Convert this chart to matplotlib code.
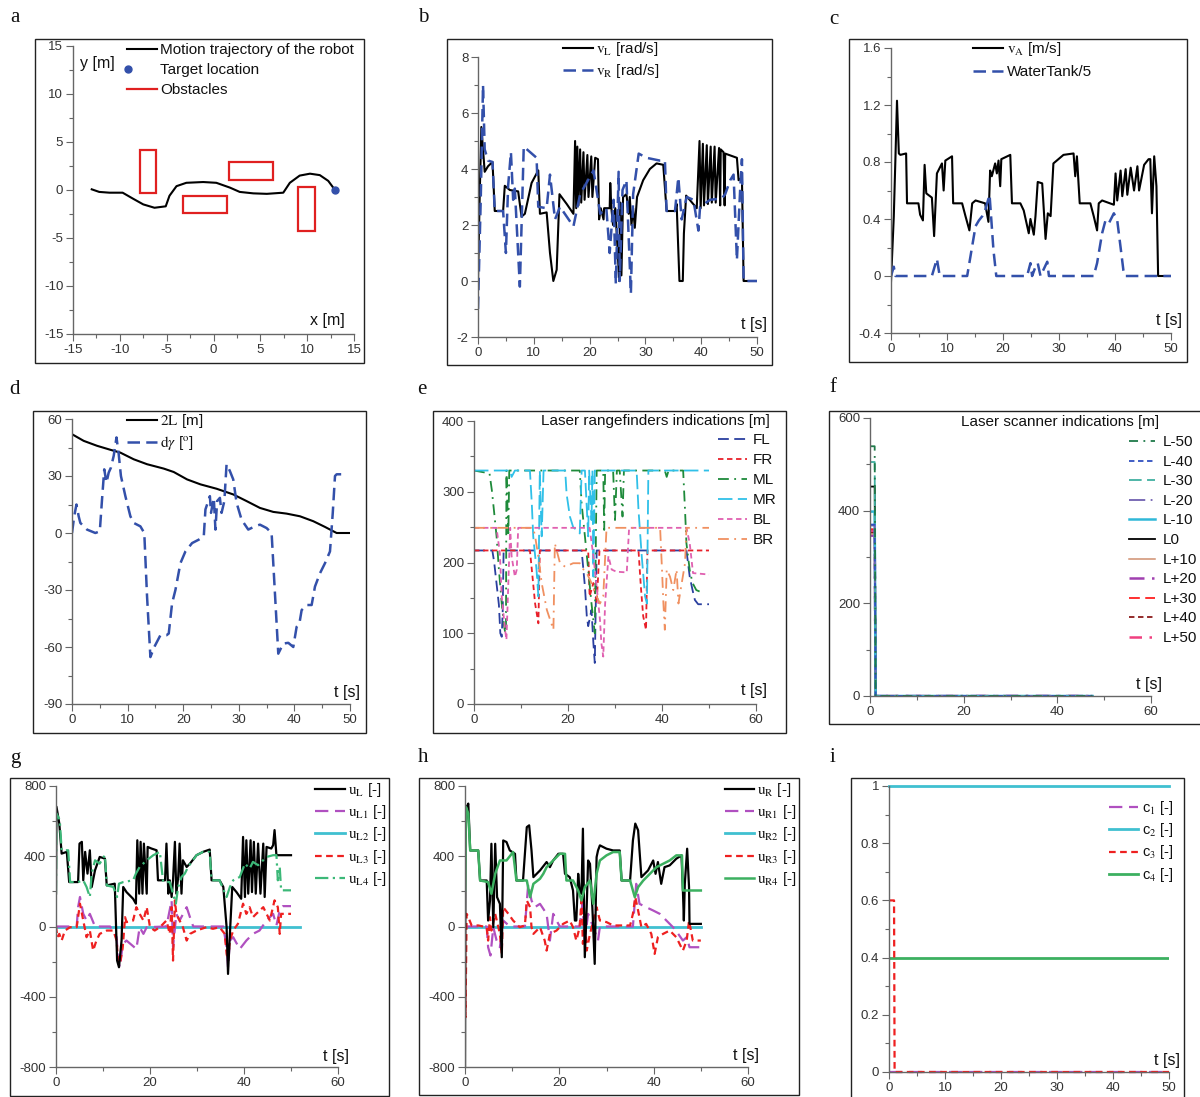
import matplotlib
matplotlib.use('Agg')
import matplotlib.pyplot as plt
from matplotlib.patches import Rectangle
from matplotlib.lines import Line2D
from matplotlib.ticker import MultipleLocator, FuncFormatter

plt.rcParams['font.family'] = ['Liberation Sans', 'DejaVu Sans']
plt.rcParams['mathtext.fontset'] = 'stix'
plt.rcParams['axes.unicode_minus'] = False

# ---------------- DATA ----------------
# (a) trajectory
a_traj_x = [-13.0, -12.2, -11.1, -9.7, -8.6, -7.5, -6.3, -5.1, -4.7, -3.95, -2.9, -1.1, 0.3, 1.75, 2.8,
            4.25, 5.7, 7.45, 8.15, 9.2, 10.3, 11.35, 12.25, 12.97]
a_traj_y = [0.07, -0.2, -0.28, -0.28, -0.9, -1.5, -1.85, -1.7, -0.6, 0.4, 0.75, 0.83, 0.75, 0.25, -0.2,
            -0.35, -0.4, -0.28, 0.75, 1.5, 1.7, 1.55, 0.95, 0.0]
a_target = [13.0, 0.0]
a_obs_x = [-7.9, -3.3, 1.7, 9.0]
a_obs_y = [-0.3, -2.4, 1.0, -4.3]
a_obs_w = [1.8, 4.7, 4.6, 1.85]
a_obs_h = [4.5, 1.75, 1.9, 4.65]

# (b) wheel speeds
b_vL_t = [0, 0.3, 0.6, 0.9, 1.2, 1.8, 2.6, 3.0, 4.5, 4.8, 5.7, 7.2, 7.8, 8.4, 9.6, 10.8, 11.1, 12.3, 12.9, 13.5,
          14.1, 14.6, 15.9, 17.1, 17.4, 17.6, 17.8, 18.0, 18.3, 18.5, 18.9, 19.1, 19.6, 19.8, 20.3, 20.5, 21.0,
          21.5, 21.7, 22.0, 22.5, 22.6, 23.6, 23.7, 23.9, 24.2, 24.6, 25.0, 25.3, 25.5, 25.7, 26.0, 26.6, 27.0,
          27.2, 27.5, 27.8, 28.1, 28.5, 29.6, 30.8, 32.0, 33.2, 33.8, 35.3, 35.6, 36.1, 36.7, 36.9, 37.3, 39.2,
          39.7, 39.9, 40.3, 40.5, 41.0, 41.2, 41.7, 41.9, 42.4, 42.6, 43.2, 43.4, 43.5, 44.0, 44.2, 44.3, 46.4,
          46.7, 47.3, 47.6, 50]
b_vL = [0, 3.0, 5.5, 4.7, 3.9, 4.1, 4.25, 2.5, 2.5, 3.4, 3.25, 3.2, 2.3, 2.4, 3.5, 3.95, 2.4, 2.45, 1.0, 0.0,
        0.4, 3.1, 2.75, 2.4, 5.0, 2.6, 4.8, 2.7, 4.7, 2.8, 4.6, 2.9, 4.5, 3.0, 4.45, 3.0, 4.4,
        4.35, 2.2, 2.6, 2.2, 2.6, 2.6, 3.5, 2.6, 2.0, 2.6, 1.2, 0.0, 2.8, 0.2, 3.0, 3.1, 2.4,
        3.0, 2.0, 2.6, 1.9, 3.0, 3.6, 4.0, 4.2, 4.15, 2.5, 2.5, 2.75, 0.0, 0.0, 1.7, 3.05, 2.6,
        5.0, 2.6, 4.9, 2.7, 4.85, 2.75, 4.8, 2.8, 4.8, 2.8, 4.75, 2.7, 4.7, 4.6, 2.7, 4.55, 4.4,
        3.6, 3.7, 0.0, 0.0]
b_vR_t = [0, 0.5, 0.9, 1.2, 1.8, 2.6, 3.0, 4.5, 5.0, 5.4, 5.9, 6.3, 6.6, 7.5, 8.2, 10.5, 10.8, 12.3, 12.9, 13.8,
          14.7, 17.1, 18.3, 20.7, 21.9, 23.0, 23.6, 24.3, 24.7, 25.2, 25.4, 25.9, 26.6, 27.4, 27.8, 28.8, 30.2,
          32.6, 33.5, 33.8, 35.3, 35.9, 36.5, 37.4, 38.6, 39.5, 39.8, 41.6, 43.7, 44.3, 45.2, 45.8, 46.4, 47.0,
          47.3, 47.6, 50]
b_vR = [-1.0, 3.0, 7.0, 4.7, 4.3, 4.25, 2.5, 2.5, 1.0, 3.4, 4.6, 2.9, 3.3, -0.2, 4.8, 4.4, 2.65, 2.6, 3.8, 2.2,
        2.65, 1.95, 3.1, 3.95, 2.4, 2.6, 1.0, 2.9, -0.1, 3.9, 0.0, 3.25, 3.6, -0.45, 3.1, 4.55, 4.4,
        4.3, 4.3, 2.5, 2.5, 3.7, 2.2, 3.0, 2.9, 1.8, 2.65, 2.9, 2.95, 3.1, 3.6, 3.8, 0.75, 3.35,
        4.35, 0.0, 0.0]

# (c) robot speed and water tank
c_vA_t = [0, 0.5, 0.8, 1.07, 1.4, 1.67, 2.7, 2.86, 4.9, 5.2, 5.7, 6.0, 6.3, 7.3, 7.7, 8.2, 9.1, 9.4, 9.7, 10.9,
          11.1, 12.7, 13.3, 14.0, 14.5, 15.1, 16.8, 17.4, 17.7, 18.0, 18.6, 18.9, 19.2, 19.5, 19.7, 21.3, 21.6,
          23.1, 23.7, 24.6, 24.9, 25.5, 25.8, 26.2, 27.0, 27.6, 28.0, 28.5, 29.0, 30.8, 32.6, 32.9, 33.2, 33.7,
          35.6, 36.2, 36.8, 37.1, 37.7, 39.8, 40.1, 40.4, 41.0, 41.3, 41.9, 42.2, 42.8, 43.4, 44.0, 44.3, 45.2,
          46.0, 46.3, 46.6, 47.0, 47.4, 47.7, 50]
c_vA = [-0.04, 0.42, 0.84, 1.23, 0.86, 0.85, 0.86, 0.51, 0.51, 0.43, 0.39, 0.78, 0.58, 0.55, 0.28, 0.72, 0.79,
        0.6, 0.81, 0.84, 0.51, 0.51, 0.42, 0.32, 0.51, 0.53, 0.51, 0.38, 0.74, 0.70, 0.79, 0.72, 0.81, 0.63,
        0.82, 0.85, 0.51, 0.51, 0.46, 0.30, 0.40, 0.29, 0.42, 0.66, 0.65, 0.26, 0.44, 0.42, 0.79, 0.85, 0.86,
        0.70, 0.84, 0.51, 0.51, 0.42, 0.32, 0.51, 0.53, 0.50, 0.72, 0.53, 0.74, 0.56, 0.75, 0.57, 0.76, 0.6,
        0.77, 0.6, 0.78, 0.82, 0.82, 0.44, 0.84, 0.63, 0.0, 0.0]
c_wt_t = [0, 0.5, 0.8, 7.3, 8.2, 8.7, 13.6, 14.2, 15.1, 15.7, 16.3, 16.8, 17.6, 18.3, 18.8, 24.3, 24.9, 25.2,
          25.8, 26.2, 26.7, 27.9, 28.2, 36.2, 36.8, 37.7, 38.3, 38.9, 39.8, 40.4, 41.0, 41.5, 41.8, 50]
c_wt = [0, 0.065, 0, 0, 0.12, 0, 0, 0.14, 0.35, 0.39, 0.42, 0.46, 0.57, 0.18, 0, 0, 0.09, 0,
        0.065, 0.09, 0, 0.1, 0, 0, 0.09, 0.30, 0.39, 0.37, 0.44, 0.39, 0.2, 0.04, 0, 0]

# (d) distance and heading error
d_2L_t = [0, 2.1, 4.5, 6.9, 8.7, 11.1, 13.5, 16.5, 18.3, 20.7, 23.1, 26.0, 29.0, 31.4, 33.8, 36.2, 38.6, 41.0,
          43.4, 45.5, 47.0, 47.6, 50]
d_2L = [52, 48.5, 45.9, 43.8, 42.3, 38.8, 36.2, 33.9, 32.1, 28.2, 25.6, 23.3, 20.3, 16.8, 13.2, 11.1, 10.2, 8.8,
        6.2, 3.2, 0.9, 0, 0]
d_dg_t = [0, 0.4, 0.8, 1.2, 1.5, 2.7, 4.2, 5.0, 5.4, 5.8, 6.2, 6.6, 7.0, 7.5, 8.0, 8.4, 8.8, 9.6, 10.5, 11.1,
          12.3, 13.0, 13.5, 14.1, 14.8, 15.9, 17.0, 17.4, 18.0, 18.6, 19.5, 20.4, 21.6, 22.8, 23.7, 24.0, 24.8,
          25.0, 25.5, 25.8, 26.1, 26.6, 26.9, 27.4, 27.8, 28.4, 29.0, 29.6, 30.5, 31.7, 32.9, 33.8, 35.0, 35.9,
          36.8, 37.1, 38.0, 38.9, 39.8, 40.4, 40.9, 41.3, 42.2, 43.1, 43.7, 44.6, 45.5, 46.4, 46.9, 47.3, 47.6,
          49.1]
d_dg = [0, 8.8, 15, 8.8, 5.3, 1.8, 0, 0.9, 17.6, 33.5, 26.5, 31.8, 34.4, 40.6, 50.3, 41.5, 30, 19.4, 8.8, 5.3,
        3.5, 0, -33.5, -65.3, -60, -53.8, -53.8, -52.9, -37, -30, -15.9, -9.7, -5.3, -3.5, -1.8, 12.4, 19.4,
        10.6, 18.5, 1.8, 16.8, 18.5, 10.6, 16.8, 36.2, 32.6, 28.2, 15.9, 7, 1.8, 3.5, 4.4, 2.6, 0,
        -47.6, -63.5, -58.2, -57.8, -60, -49.4, -47.6, -40.6, -37.9, -37.9, -28.2, -21.2, -15.9, -9.7, 10.6, 30,
        30.9, 30.9]

# (e) laser rangefinders
e_FL_t = [0, 3.9, 4.3, 4.8, 5.3, 5.6, 5.9, 6.1, 6.3, 22.9, 23.6, 24.0, 24.3, 25.0, 25.4, 25.7, 26.1, 45.2, 45.9,
          46.5, 47.0, 47.7, 50]
e_FL = [217, 217, 200, 170, 140, 100, 95, 130, 217, 217, 166, 124, 110, 133, 86, 58, 217, 217, 180,
        161, 147, 141, 141]
e_FR_t = [0, 11.9, 12.3, 13.0, 13.7, 14.0, 24.3, 24.6, 25.4, 26.1, 26.7, 35.0, 35.5, 36.0, 36.6, 36.9, 50]
e_FR = [217, 217, 190, 142, 114, 217, 217, 152, 171, 142, 217, 217, 166, 124, 105, 217, 217]
e_ML_t = [0, 3.3, 3.8, 4.3, 4.8, 5.3, 5.9, 6.4, 6.8, 6.9, 7.3, 7.5, 22.5, 22.9, 23.6, 24.3, 25.0, 25.7, 26.1,
          27.5, 27.7, 27.9, 29.6, 30.0, 30.4, 31.0, 31.6, 31.9, 40.6, 41.0, 41.4, 44.5, 44.9, 45.2, 45.9, 46.5,
          47.3, 48.0]
e_ML = [330, 326, 302, 270, 237, 190, 142, 110, 95, 330, 237, 330, 330, 283, 237, 190, 142, 100, 330,
        330, 246, 330, 330, 260, 330, 330, 265, 330, 330, 321, 330, 330, 274, 227, 189, 171,
        161, 159]
e_MR_t = [0, 7.7, 8.0, 8.4, 8.7, 11.9, 12.3, 12.6, 13.3, 13.7, 14.0, 14.4, 14.8, 19.4, 19.7, 20.4, 21.1, 21.8,
          22.5, 22.9, 23.6, 24.3, 24.5, 25.0, 25.2, 25.4, 25.7, 34.6, 35.0, 35.7, 36.4, 36.8, 37.1, 50]
e_MR = [330, 330, 321, 326, 330, 330, 283, 237, 190, 152, 330, 237, 330, 330, 297, 265, 250, 246,
        241, 330, 330, 237, 330, 260, 330, 180, 330, 330, 274, 208, 152, 142, 330, 330]
e_BL_t = [0, 4.8, 5.5, 5.9, 6.6, 6.9, 7.7, 8.0, 8.7, 9.1, 9.4, 24.6, 25.4, 26.1, 26.8, 27.1, 27.5, 27.9, 28.6,
          29.3, 30.3, 32.5, 33.0, 45.2, 45.9, 46.6, 50]
e_BL = [249, 249, 213, 152, 105, 91, 249, 209, 180, 190, 249, 249, 209, 166, 119, 86, 67, 142, 209,
        190, 187, 186, 249, 249, 227, 185, 183]
e_BR_t = [0, 12.6, 13.0, 13.7, 14.4, 15.5, 16.9, 17.2, 18.3, 19.4, 21.1, 22.5, 23.3, 24.0, 25.0, 26.1, 26.8,
          27.5, 28.2, 39.6, 40.0, 40.3, 40.6, 41.0, 41.7, 42.4, 43.1, 43.5, 44.2, 44.9, 45.2, 50]
e_BR = [249, 249, 237, 208, 171, 133, 105, 227, 199, 194, 199, 199, 190, 185, 171, 152, 142,
        152, 249, 249, 190, 142, 105, 190, 180, 161, 190, 142, 171, 199, 249, 249]

# (f) laser scanner: initial reading, drop time, end time
f_labels = ['L-50', 'L-40', 'L-30', 'L-20', 'L-10', 'L0', 'L+10', 'L+20', 'L+30', 'L+40', 'L+50']
f_init = [539, 370, 505, 368, 398, 452, 350, 346, 360, 352, 356]
f_t = [0, 1.0, 1.2, 47.5]

# (g) left wheel controls
g_uL_t = [0, 0.1, 0.7, 1.2, 2.3, 2.8, 4.7, 5.0, 5.5, 5.8, 6.2, 6.7, 7.2, 7.6, 8.3, 9.3, 10.4, 10.8, 12.5, 13.0,
          13.4, 13.95, 14.3, 15.0, 16.4, 17.0, 17.3, 17.7, 18.0, 18.4, 18.7, 19.3, 19.5, 20.3, 21.4, 21.7, 23.2,
          23.5, 23.9, 24.2, 24.6, 24.9, 25.3, 25.6, 26.0, 26.3, 26.7, 27.0, 27.8, 28.5, 29.9, 31.3, 32.7, 33.1,
          34.8, 35.6, 36.3, 36.6, 37.0, 37.5, 38.4, 39.4, 39.8, 40.2, 40.5, 40.9, 41.4, 41.7, 42.1, 42.5, 43.0,
          43.5, 44.1, 44.4, 44.8, 45.8, 46.2, 46.5, 46.9, 50]
g_uL = [187, 682, 587, 415, 425, 253, 253, 472, 482, 263, 425, 301, 434, 225, 320, 396, 387, 234, 244, -194,
        -232, -80, 225, 196, 158, 130, 491, 187, 482, 187, 472, 187, 453, 444, 434, 263, 263,
        472, 187, 263, 168, 263, 482, 187, 282, 472, 187, 377, 339, 358, 406, 425, 438, 263,
        263, 225, -4, -270, -42, 225, 196, 158, 510, 168, 491, 187, 491, 196, 482, 187, 472,
        187, 472, 168, 453, 444, 463, 549, 406, 406]
g_uL1_t = [0, 4.4, 4.7, 5.1, 5.8, 6.5, 7.2, 8.3, 11.5, 12.9, 13.2, 13.6, 14.2, 15.0, 17.1, 17.8, 18.6, 19.3,
           23.5, 24.6, 24.9, 25.6, 26.3, 27.8, 28.5, 29.2, 35.6, 36.3, 36.6, 37.0, 37.7, 39.1, 40.5, 41.9,
           43.3, 44.8, 46.2, 46.9, 47.6, 48.3, 50]
g_uL1 = [0, 0, 110, 168, 72, 34, 72, 0, 0, -61, -194, -232, -99, -80, -128, -4, -42, -4,
         0, 149, -118, 72, 34, 110, 53, 0, 0, -118, -232, -80, -61, -128, -80, -42,
         -23, 34, 72, 6, 91, 116, 116]
g_uL2_t = [0, 52]
g_uL2 = [0, 0]
g_uL3_t = [0, 0.3, 0.7, 1.2, 1.9, 3.0, 4.4, 4.7, 5.1, 5.8, 6.5, 7.2, 7.9, 8.6, 9.3, 10.8, 12.2, 12.9, 13.2,
           13.6, 14.2, 14.7, 15.0, 16.4, 17.1, 17.8, 18.6, 19.3, 20.0, 21.0, 22.1, 23.5, 24.2, 24.6, 24.9,
           25.3, 25.6, 26.3, 27.0, 27.8, 28.5, 29.9, 32.0, 33.4, 34.8, 35.9, 36.3, 36.6, 37.0, 37.7, 38.7,
           39.8, 40.5, 41.2, 41.9, 42.6, 44.1, 44.8, 45.5, 46.5, 47.2, 47.6, 47.9, 50]
g_uL3 = [0, -61, -42, -80, -23, -4, -4, 53, 130, 34, -61, -23, -137, -80, -42, -23, -23, -80, -194,
         -213, -118, 53, 25, 34, 110, 72, 34, 110, -4, -23, -4, 34, -42, 110, -194,
         149, 72, 34, -4, -80, -42, -23, -4, -13, -4, -42, -156, -194, -80, -23, 15,
         130, 72, 110, 53, 72, 110, 72, 34, 149, 110, -42, 72, 72]
g_uL4_t = [0, 0.1, 0.8, 1.2, 2.6, 3.0, 4.7, 5.8, 6.5, 7.2, 7.6, 8.3, 9.3, 10.4, 10.8, 12.2, 13.0, 13.4, 14.3,
           16.4, 17.0, 17.8, 19.3, 20.7, 22.1, 22.8, 24.2, 24.9, 25.5, 26.0, 26.7, 27.4, 28.1, 29.9, 31.3, 32.7,
           33.1, 34.8, 36.3, 37.0, 37.7, 39.1, 40.2, 41.2, 41.9, 43.0, 44.8, 46.2, 46.9, 47.2, 47.6, 47.9, 50]
g_uL4 = [187, 644, 606, 434, 434, 253, 253, 263, 225, 168, 301, 377, 358, 406, 234, 225, 168, 244, 253,
         263, 301, 339, 377, 406, 425, 253, 253, 187, 130, 225, 282, 301, 339, 406, 425, 425,
         263, 263, 168, 225, 263, 282, 358, 330, 368, 349, 396, 406, 406, 263, 339, 206, 206]

# (h) right wheel controls
h_uR_t = [0, 0.1, 0.35, 0.7, 1.1, 2.8, 3.2, 4.6, 4.9, 5.3, 5.6, 6.0, 6.4, 6.8, 7.4, 7.8, 8.1, 8.8, 9.5, 10.6,
          10.9, 12.3, 13.1, 13.6, 14.1, 14.5, 15.9, 17.3, 18.0, 18.7, 19.8, 20.8, 21.2, 22.2, 22.9, 23.3, 23.6,
          24.0, 24.3, 24.7, 25.0, 25.4, 25.8, 26.1, 26.5, 27.0, 27.5, 27.9, 28.2, 28.6, 30.0, 31.4, 32.8, 33.2,
          35.0, 35.6, 36.1, 36.7, 37.0, 37.4, 38.1, 38.8, 39.9, 40.4, 40.9, 41.6, 42.3, 43.4, 44.8, 45.9, 46.2,
          46.4, 46.6, 47.1, 47.5, 47.6, 50]
h_uR = [-802, 490, 680, 700, 433, 433, 262, 262, 34, 148, 471, -4, 471, 167, 129, -175, 490, 481, 433, 414,
        262, 262, 566, 576, 433, 281, 319, 367, 338, 376, 414, 414, 300, 281, 205, 34, 34,
        300, 205, 186, 557, -175, 110, 376, 357, 110, -213, 395, 433, 462, 443, 433, 433, 262,
        262, 490, 586, 548, 433, 281, 300, 319, 376, 300, 367, 243, 338, 348, 386, 405, 205,
        34, 243, 443, 224, 15, 15]
h_uR1_t = [0, 4.6, 4.9, 5.4, 6.0, 6.7, 7.4, 8.1, 9.5, 12.7, 13.4, 14.1, 14.8, 15.9, 17.3, 18.0, 18.7, 19.4,
           20.1, 24.3, 24.9, 25.4, 26.1, 27.2, 28.2, 28.6, 35.6, 36.3, 37.0, 38.4, 39.9, 41.3, 42.7, 44.1,
           45.2, 46.2, 47.0, 47.6, 50]
h_uR1 = [0, 0, -118, -165, -4, -80, -118, 34, 0, 0, 243, 148, 110, 129, 72, -80, 72, 34,
         0, 0, 129, -80, 72, -4, -80, 0, 0, 243, 129, 110, 91, 72, 34, -4,
         -42, -80, -61, -118, -118]
h_uR2_t = [0, 50]
h_uR2 = [0, 0]
h_uR3_t = [0, 0.1, 0.35, 0.7, 1.4, 2.8, 4.6, 4.9, 5.3, 5.6, 6.4, 7.4, 7.8, 8.1, 9.2, 10.2, 11.6, 12.7, 13.1,
           13.8, 14.1, 14.5, 15.9, 16.9, 17.3, 18.0, 19.4, 20.8, 22.2, 22.9, 23.6, 24.3, 24.7, 25.0, 25.4,
           25.8, 26.5, 27.2, 27.9, 28.6, 30.0, 31.4, 32.8, 35.0, 35.6, 36.1, 36.7, 37.4, 38.4, 39.5, 40.2,
           40.9, 42.0, 43.4, 44.8, 46.2, 47.0, 47.5, 48.3, 50]
h_uR3 = [-4, -517, 72, 53, 6, 6, -4, -80, 53, -23, 72, -42, -156, 110, 72, 34, -4, 6, 148,
         110, -4, -42, -4, -80, -137, -42, -23, 15, 34, -4, -80, -4, 148, -99, 72,
         -137, -42, 34, 110, 34, 25, 6, 6, 6, 72, 167, 91, -4, 15, -42, -156,
         -61, -42, -23, -61, -137, -80, 34, -80, -80]
h_uR4_t = [0, 0.2, 0.7, 1.1, 2.8, 3.2, 4.9, 5.6, 6.4, 7.4, 8.8, 10.2, 10.9, 13.1, 13.8, 14.5, 15.9, 16.6, 17.3,
           18.7, 20.1, 21.2, 21.5, 22.9, 24.0, 24.7, 25.4, 26.5, 27.2, 27.9, 28.6, 30.0, 31.4, 32.8, 33.2, 35.0,
           36.0, 36.7, 37.8, 39.2, 40.6, 42.0, 43.4, 44.8, 46.0, 46.2, 50]
h_uR4 = [205, 680, 643, 433, 433, 262, 253, 186, 300, 376, 376, 424, 262, 262, 167, 243, 272, 300, 338,
         376, 414, 414, 262, 262, 205, 148, 224, 262, 129, 300, 376, 405, 424, 424, 262, 262,
         167, 224, 262, 300, 338, 357, 376, 405, 405, 205, 205]

# (i) coefficients
i_t = [0, 50]
i_c1 = [0, 0]
i_c2 = [1, 1]
i_c3_t = [0, 0.9, 1.0, 50]
i_c3 = [0.6, 0.6, 0, 0]
i_c4 = [0.4, 0.4]

# ---------------- STYLE ----------------
BLUE = '#3350aa'
W, H = 1200, 1097
fig = plt.figure(figsize=(W / 100, H / 100), dpi=100)


def fx(x):
    return x / W


def fy(y):
    return 1 - y / H


def frame(x0, y0, x1, y1):
    fig.patches.append(Rectangle((fx(x0), fy(y1)), (x1 - x0) / W, (y1 - y0) / H,
                                 transform=fig.transFigure, fill=False, lw=1.0, ec='#222'))


def make_axes(x0, x1, ytop, ybot, xlim, ylim, xmaj, xmin, ymaj, ymin):
    ax = fig.add_axes([fx(x0), fy(ybot), (x1 - x0) / W, (ybot - ytop) / H])
    ax.set_xlim(*xlim)
    ax.set_ylim(*ylim)
    ax.patch.set_alpha(0)
    for s in ('top', 'right'):
        ax.spines[s].set_visible(False)
    for s in ('left', 'bottom'):
        ax.spines[s].set_color('#666')
        ax.spines[s].set_linewidth(1.0)
    ax.xaxis.set_major_locator(MultipleLocator(xmaj))
    ax.xaxis.set_minor_locator(MultipleLocator(xmin))
    ax.yaxis.set_major_locator(MultipleLocator(ymaj))
    ax.yaxis.set_minor_locator(MultipleLocator(ymin))
    fmt = FuncFormatter(lambda v, p: '%g' % (round(v, 6) + 0.0))
    ax.xaxis.set_major_formatter(fmt)
    ax.yaxis.set_major_formatter(fmt)
    ax.tick_params(which='major', length=5, width=0.8, color='#666', labelsize=9.5,
                   labelcolor='#333', pad=2)
    ax.tick_params(which='minor', length=3, width=0.8, color='#666')
    return ax


def panel_letter(x, y, s):
    fig.text(fx(x), fy(y), s, family=['Liberation Serif', 'DejaVu Serif'], fontsize=15,
             ha='center', va='center', color='#111')


def legend_rows(rows, xh, hl, xt, y0, dy, fs=11):
    for i, (label, kw) in enumerate(rows):
        y = y0 + i * dy
        if kw is not None:
            fig.add_artist(Line2D([fx(xh), fx(xh + hl)], [fy(y), fy(y)],
                                  transform=fig.transFigure, **kw))
        fig.text(fx(xt), fy(y + fs * 0.45), label, fontsize=fs, ha='left', va='baseline', color='#111')


def axis_label(ax, x, y, s, ha='right'):
    ax.text(x, y, s, transform=ax.transAxes, fontsize=11.5, ha=ha, va='bottom', color='#111')


# ---------------- (a) ----------------
frame(35, 39, 364, 363)
panel_letter(15, 18, 'a')
ax = make_axes(73, 354, 46, 334, (-15, 15), (-15, 15), 5, 2.5, 5, 2.5)
ax.plot(a_traj_x, a_traj_y, color='black', lw=1.5)
for x0, y0, w, h in zip(a_obs_x, a_obs_y, a_obs_w, a_obs_h):
    ax.add_patch(Rectangle((x0, y0), w, h, fill=False, ec='#e02020', lw=1.6))
ax.plot([a_target[0]], [a_target[1]], 'o', color=BLUE, ms=5)
axis_label(ax, 0.968, 0.02, 'x [m]')
ax.text(0.025, 0.965, 'y [m]', transform=ax.transAxes, fontsize=11.5, ha='left', va='top', color='#111')
legend_rows([('Motion trajectory of the robot', dict(color='black', lw=1.5)),
             ('Target location', None),
             ('Obstacles', dict(color='#e02020', lw=1.6))], 127, 30, 160, 49, 20)
fig.add_artist(Line2D([fx(128)], [fy(69)], transform=fig.transFigure, marker='o', color=BLUE, ms=5, ls='none'))

# ---------------- (b) ----------------
frame(447, 39, 772, 365)
panel_letter(423, 18, 'b')
ax = make_axes(478, 757, 57, 337, (0, 50), (-2, 8), 10, 5, 2, 1)
ax.plot(b_vL_t, b_vL, color='black', lw=1.5)
ax.plot(b_vR_t, b_vR, color=BLUE, lw=1.8, ls=(0, (5, 2.5)))
axis_label(ax, 1.036, 0.018, 't [s]')
legend_rows([(r'$\mathrm{v_L}$ [rad/s]', dict(color='black', lw=1.5)),
             (r'$\mathrm{v_R}$ [rad/s]', dict(color=BLUE, lw=1.8, ls=(0, (5, 2.5))))],
            563, 30, 596, 48, 22)

# ---------------- (c) ----------------
frame(849, 39, 1187, 362)
panel_letter(834, 19, 'c')
ax = make_axes(891, 1171, 48, 333, (0, 50), (-0.4, 1.6), 10, 5, 0.4, 0.2)
ax.plot(c_vA_t, c_vA, color='black', lw=1.5)
ax.plot(c_wt_t, c_wt, color=BLUE, lw=1.8, ls=(0, (5, 2.5)))
axis_label(ax, 1.04, 0.018, 't [s]')
legend_rows([(r'$\mathrm{v_A}$ [m/s]', dict(color='black', lw=1.5)),
             ('WaterTank/5', dict(color=BLUE, lw=1.8, ls=(0, (5, 2.5))))],
            973, 30, 1007, 48, 23)

# ---------------- (d) ----------------
frame(33, 411, 366, 733)
panel_letter(15, 390, 'd')
ax = make_axes(72, 350, 419, 704, (0, 50), (-90, 60), 10, 5, 30, 15)
ax.plot(d_2L_t, d_2L, color='black', lw=1.5)
ax.plot(d_dg_t, d_dg, color=BLUE, lw=1.8, ls=(0, (5, 2.5)))
axis_label(ax, 1.036, 0.014, 't [s]')
legend_rows([(r'$\mathrm{2L}$ [m]', dict(color='black', lw=1.5)),
             (r'$\mathrm{d}\gamma$ [$^{\mathrm{o}}$]', dict(color=BLUE, lw=1.8, ls=(0, (5, 2.5))))],
            127, 30, 160, 420, 22)

# ---------------- (e) ----------------
frame(433, 411, 786, 733)
panel_letter(422, 390, 'e')
ax = make_axes(474, 756, 421, 704, (0, 60), (0, 400), 20, 10, 100, 50)
e_styles = [
    ('FL', e_FL_t, e_FL, dict(color='#2a3f9f', lw=1.3, ls=(0, (6, 3)))),
    ('FR', e_FR_t, e_FR, dict(color='#e8202a', lw=1.3, ls=(0, (3, 2)))),
    ('ML', e_ML_t, e_ML, dict(color='#1e8a3a', lw=1.3, ls=(0, (6, 3, 1, 3)))),
    ('MR', e_MR_t, e_MR, dict(color='#30c0e8', lw=1.3, ls=(0, (8, 3)))),
    ('BL', e_BL_t, e_BL, dict(color='#e060b0', lw=1.3, ls=(0, (3, 2)))),
    ('BR', e_BR_t, e_BR, dict(color='#f09060', lw=1.3, ls=(0, (6, 3, 1, 3)))),
]
for name, t, v, kw in e_styles:
    ax.plot(t, v, **kw)
axis_label(ax, 1.039, 0.021, 't [s]')
fig.text(fx(770), fy(420 + 5), 'Laser rangefinders indications [m]', fontsize=11, ha='right',
         va='baseline', color='#111')
legend_rows([(n, kw) for n, t, v, kw in e_styles], 718, 29, 753, 439, 20)

# ---------------- (f) ----------------
frame(829, 411, 1210, 724)
panel_letter(833, 388, 'f')
ax = make_axes(870, 1151, 418, 696, (0, 60), (0, 600), 20, 10, 200, 100)
f_kws = [
    dict(color='#1f7a4a', lw=1.3, ls=(0, (5, 3, 1, 3))),
    dict(color='#3050c0', lw=1.3, ls=(0, (3, 2))),
    dict(color='#40b0a0', lw=1.3, ls=(0, (7, 3))),
    dict(color='#7060b0', lw=1.3, ls=(0, (9, 3, 1, 3))),
    dict(color='#30b8d8', lw=1.8),
    dict(color='black', lw=1.3),
    dict(color='#d09070', lw=1.1),
    dict(color='#a040b0', lw=1.8, ls=(0, (6, 3, 1, 3))),
    dict(color='#ff2020', lw=1.3, ls=(0, (6, 3))),
    dict(color='#8b1a1a', lw=1.3, ls=(0, (3, 2))),
    dict(color='#f04080', lw=1.8, ls=(0, (5, 3, 1, 3))),
]
for lab, v0, kw in reversed(list(zip(f_labels, f_init, f_kws))):
    ax.plot(f_t, [v0, v0, 0, 0], **kw)
axis_label(ax, 1.039, 0.014, 't [s]')
fig.text(fx(1159), fy(421 + 5), 'Laser scanner indications [m]', fontsize=11, ha='right',
         va='baseline', color='#111')
legend_rows(list(zip(f_labels, f_kws)), 1129, 26, 1163, 441, 19.6)

# ---------------- (g) ----------------
frame(10, 778, 389, 1096)
panel_letter(15, 758, 'g')
ax = make_axes(56, 338, 786, 1067, (0, 60), (-800, 800), 20, 10, 400, 200)
g_styles = [
    (r'$\mathrm{u_L}$ [-]', g_uL_t, g_uL, dict(color='black', lw=1.6)),
    (r'$\mathrm{u_{L1}}$ [-]', g_uL1_t, g_uL1, dict(color='#b050c0', lw=1.6, ls=(0, (6, 3)))),
    (r'$\mathrm{u_{L2}}$ [-]', g_uL2_t, g_uL2, dict(color='#40c0d0', lw=2.0)),
    (r'$\mathrm{u_{L3}}$ [-]', g_uL3_t, g_uL3, dict(color='#ee2020', lw=1.6, ls=(0, (3, 2)))),
    (r'$\mathrm{u_{L4}}$ [-]', g_uL4_t, g_uL4, dict(color='#3cb878', lw=1.6, ls=(0, (6, 2, 1, 2)))),
]
for order in (2, 1, 3, 0, 4):
    lab, t, v, kw = g_styles[order]
    ax.plot(t, v, **kw)
axis_label(ax, 1.039, 0.011, 't [s]')
legend_rows([(lab, kw) for lab, t, v, kw in g_styles], 315, 30, 348, 789, 22.2)

# ---------------- (h) ----------------
frame(419, 778, 799, 1095)
panel_letter(423, 757, 'h')
ax = make_axes(465, 748, 786, 1067, (0, 60), (-800, 800), 20, 10, 400, 200)
h_styles = [
    (r'$\mathrm{u_R}$ [-]', h_uR_t, h_uR, dict(color='black', lw=1.6)),
    (r'$\mathrm{u_{R1}}$ [-]', h_uR1_t, h_uR1, dict(color='#b050c0', lw=1.6, ls=(0, (6, 3)))),
    (r'$\mathrm{u_{R2}}$ [-]', h_uR2_t, h_uR2, dict(color='#40c0d0', lw=2.0)),
    (r'$\mathrm{u_{R3}}$ [-]', h_uR3_t, h_uR3, dict(color='#ee2020', lw=1.6, ls=(0, (3, 2)))),
    (r'$\mathrm{u_{R4}}$ [-]', h_uR4_t, h_uR4, dict(color='#3cb060', lw=1.8)),
]
for order in (2, 1, 3, 0, 4):
    lab, t, v, kw = h_styles[order]
    ax.plot(t, v, **kw)
axis_label(ax, 1.039, 0.014, 't [s]')
legend_rows([(lab, kw) for lab, t, v, kw in h_styles], 725, 29, 757, 789, 22.2)

# ---------------- (i) ----------------
frame(851, 778, 1184, 1110)
panel_letter(832, 758, 'i')
ax = make_axes(889, 1169, 786, 1072, (0, 50), (0, 1), 10, 5, 0.2, 0.1)
i_kws = [dict(color='#b050c0', lw=1.6, ls=(0, (6, 3))),
         dict(color='#40c0d0', lw=2.0),
         dict(color='#ee2020', lw=1.6, ls=(0, (3, 2))),
         dict(color='#3cb060', lw=2.0)]
ax.plot(i_t, i_c1, clip_on=False, **i_kws[0])
ax.plot(i_t, i_c2, clip_on=False, **i_kws[1])
ax.plot(i_t, i_c4, **i_kws[3])
ax.plot(i_c3_t, i_c3, clip_on=False, **i_kws[2])
axis_label(ax, 1.039, 0.014, 't [s]')
legend_rows([(r'c$_{1}$ [-]', i_kws[0]), (r'c$_{2}$ [-]', i_kws[1]),
             (r'c$_{3}$ [-]', i_kws[2]), (r'c$_{4}$ [-]', i_kws[3])], 1109, 29, 1142, 807, 22.3, fs=10.5)

fig.savefig('out.png', dpi=100)
